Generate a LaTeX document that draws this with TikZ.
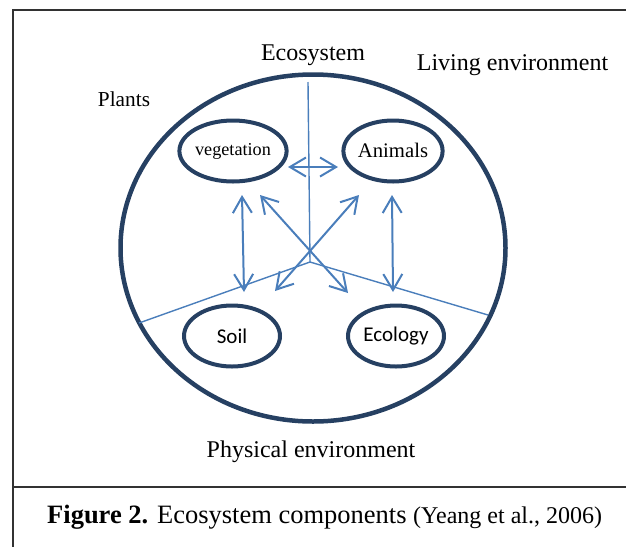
\documentclass[tikz,border=0pt]{standalone}
\usepackage{fontspec}
\setmainfont{Liberation Serif}
\newfontfamily\calib{Carlito}
\usetikzlibrary{arrows.meta,shapes.geometric}
\definecolor{navy}{RGB}{38,64,98}
\definecolor{arrblue}{RGB}{74,126,187}
\definecolor{framegray}{RGB}{50,50,50}
\begin{document}
\begin{tikzpicture}[x=1pt,y=-1pt,
  comp/.style={draw=navy,line width=4pt,ellipse,minimum width=96pt,minimum height=61pt,inner sep=0pt},
  link/.style={draw=arrblue,line width=2pt,{Straight Barb[length=16pt,width=19pt]}-{Straight Barb[length=16pt,width=19pt]}},
  divider/.style={draw=arrblue,line width=1.4pt},
  lbl/.style={inner sep=0pt,anchor=base},
  frameline/.style={draw=framegray,line width=1.3pt}]
\useasboundingbox (0,0) rectangle (626,547);
% frame
\coordinate (fTR) at (626,10);
\coordinate (fTL) at (13,10);
\coordinate (fBL) at (13,547);
\coordinate (sL) at (13,487);
\coordinate (sR) at (626,487);
\draw[frameline] (fTR) -- (fTL) -- (fBL);
\draw[frameline] (sL) -- (sR);
% big ellipse
\node[draw=navy,line width=4.5pt,ellipse,minimum width=385pt,minimum height=347pt,inner sep=0pt] (eco) at (313,248) {};
% dividers
\coordinate (J) at (310,262);
\coordinate (top) at (308,82);
\coordinate (dl) at (139,323);
\coordinate (dr) at (488,315);
\draw[divider] (top) -- (J);
\draw[divider] (dl) -- (J) -- (dr);
% components
\node[comp] (veg) at (233,151) {\fontsize{18.2}{20}\selectfont\raisebox{2pt}{vegetation}};
\node[comp] (ani) at (393,151) {\fontsize{20.7}{23}\selectfont\raisebox{2pt}{Animals}};
\node[comp] (soil) at (232,336) {\calib\fontsize{21}{24}\selectfont Soil};
\node[comp] (ecol) at (396,336) {\calib\fontsize{21}{24}\selectfont\raisebox{2pt}{Ecology}};
% arrow end points
\coordinate (h1) at (288,167);
\coordinate (h2) at (338,167);
\coordinate (vl1) at (242,195);
\coordinate (vl2) at (244,292);
\coordinate (vr1) at (392,195);
\coordinate (vr2) at (393,292);
\coordinate (d1a) at (260,195);
\coordinate (d1b) at (348,293);
\coordinate (d2a) at (359,195);
\coordinate (d2b) at (275,291);
\draw[link] (h1) -- (h2);
\draw[link] (vl1) -- (vl2);
\draw[link] (vr1) -- (vr2);
\draw[link] (d1a) -- (d1b);
\draw[link] (d2a) -- (d2b);
% labels
\node[lbl] (tEco) at (313,60) {\fontsize{24}{28}\selectfont Ecosystem};
\node[lbl] (tLiv) at (512.5,70) {\fontsize{24}{28}\selectfont Living environment};
\node[lbl] (tPla) at (124,106) {\fontsize{21.3}{25}\selectfont Plants};
\node[lbl] (tPhy) at (311,457) {\fontsize{24}{28}\selectfont Physical environment};
\node[inner sep=0pt,anchor=base west] (cap) at (47,523) {\fontsize{26.5}{30}\selectfont\textbf{Figure 2.} Ecosystem components {\fontsize{24}{28}\selectfont(Yeang et al., 2006)}};
\end{tikzpicture}
\end{document}
